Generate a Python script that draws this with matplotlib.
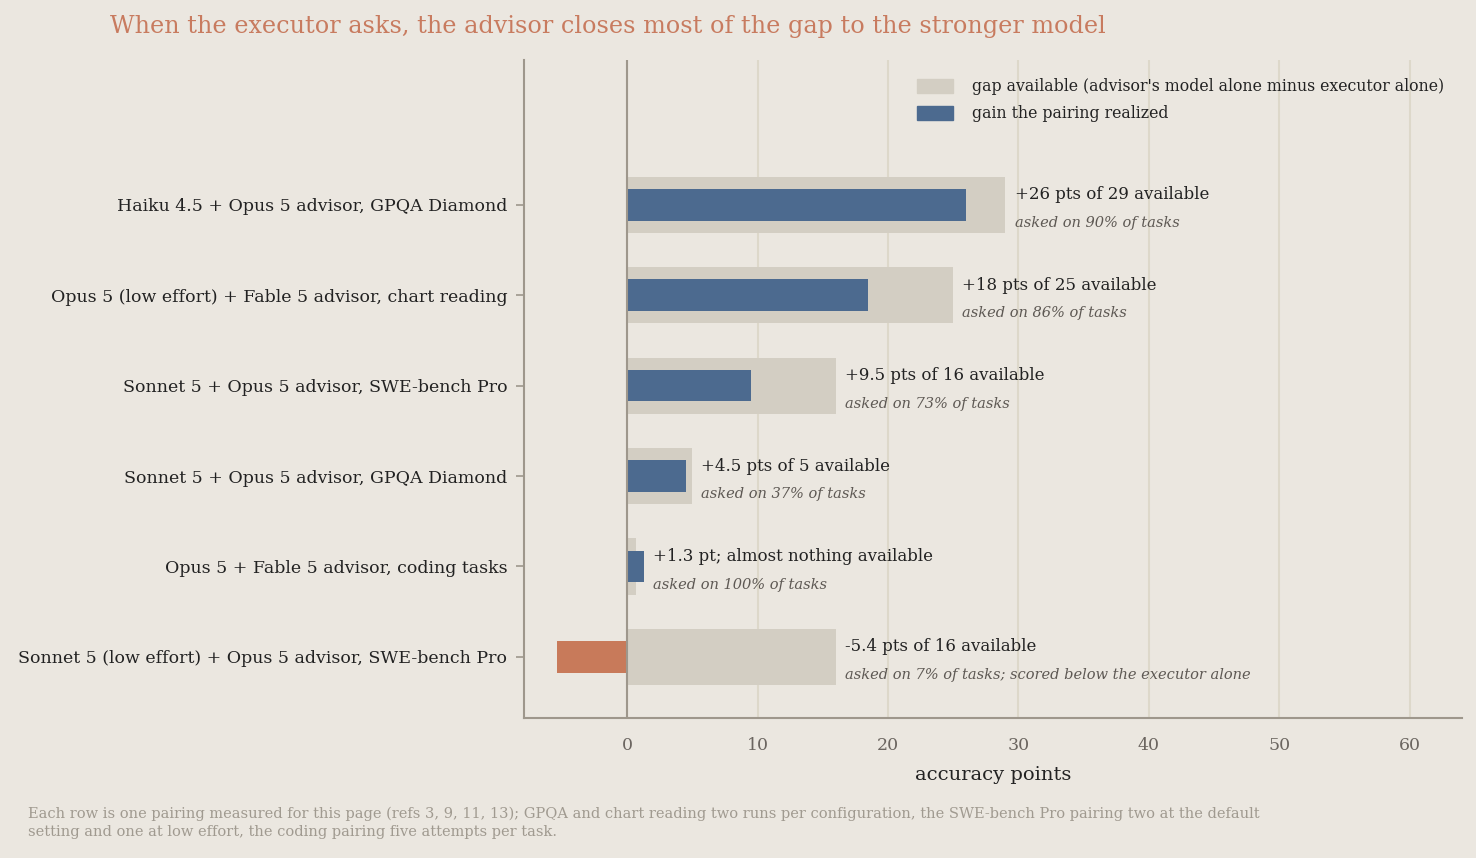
import matplotlib
matplotlib.use("Agg")
import matplotlib.pyplot as plt
from matplotlib.patches import Patch

categories = [
    "Haiku 4.5 + Opus 5 advisor, GPQA Diamond",
    "Opus 5 (low effort) + Fable 5 advisor, chart reading",
    "Sonnet 5 + Opus 5 advisor, SWE-bench Pro",
    "Sonnet 5 + Opus 5 advisor, GPQA Diamond",
    "Opus 5 + Fable 5 advisor, coding tasks",
    "Sonnet 5 (low effort) + Opus 5 advisor, SWE-bench Pro",
]
gap_available = [29, 25, 16, 5, 0.7, 16]
gain_realized = [26, 18.5, 9.5, 4.5, 1.3, -5.4]
main_labels = [
    "+26 pts of 29 available",
    "+18 pts of 25 available",
    "+9.5 pts of 16 available",
    "+4.5 pts of 5 available",
    "+1.3 pt; almost nothing available",
    "-5.4 pts of 16 available",
]
sub_labels = [
    "asked on 90% of tasks",
    "asked on 86% of tasks",
    "asked on 73% of tasks",
    "asked on 37% of tasks",
    "asked on 100% of tasks",
    "asked on 7% of tasks; scored below the executor alone",
]
x_ticks = [0, 10, 20, 30, 40, 50, 60]

BG = "#EBE7E0"
GAP = "#D3CEC3"
BLUE = "#4C6A8F"
ORANGE = "#C87A5A"
SPINE = "#9E978C"
GRID = "#DDD8CA"
DARK = "#222222"
FONT = ["DejaVu Serif"]

plt.rcParams["font.family"] = FONT

fig = plt.figure(figsize=(14.76, 8.58), dpi=100, facecolor=BG)
ax = fig.add_axes([0.355, 0.1632, 0.6355, 0.7668], facecolor=BG)

y = list(range(len(categories)))
ax.barh(y, gap_available, height=0.62, color=GAP, zorder=2)
colors = [BLUE if g >= 0 else ORANGE for g in gain_realized]
ax.barh(y, gain_realized, height=0.35, color=colors, zorder=3)

for i in y:
    xe = max(gap_available[i], gain_realized[i]) + 0.7
    ax.text(xe, i - 0.11, main_labels[i], fontsize=12, color=DARK,
            va="center", ha="left", zorder=4)
    ax.text(xe, i + 0.2, sub_labels[i], fontsize=10.5, color="#5E5954",
            style="italic", va="center", ha="left", zorder=4)

ax.axvline(0, color=SPINE, lw=1.5, zorder=3)
ax.set_xlim(-7.9, 64)
ax.set_ylim(5.675, -1.6)
ax.set_xticks(x_ticks)
ax.set_xticklabels([str(t) for t in x_ticks])
ax.set_yticks(y)
ax.set_yticklabels(categories)
ax.tick_params(axis="y", labelsize=12.5, labelcolor=DARK, color=SPINE, length=6, width=1.2, pad=6)
ax.tick_params(axis="x", labelsize=12.5, labelcolor="#6B6560", length=0, pad=14)
ax.grid(axis="x", color=GRID, lw=1.5, zorder=0)
ax.set_axisbelow(True)
for s in ["top", "right"]:
    ax.spines[s].set_visible(False)
for s in ["left", "bottom"]:
    ax.spines[s].set_color(SPINE)
    ax.spines[s].set_linewidth(1.5)
ax.set_xlabel("accuracy points", fontsize=14, color=DARK, labelpad=8)

handles = [Patch(color=GAP, label="gap available (advisor's model alone minus executor alone)"),
           Patch(color=BLUE, label="gain the pairing realized")]
leg = ax.legend(handles=handles, loc="upper right", frameon=False, fontsize=11.3,
                handlelength=2.3, handleheight=1.0, borderaxespad=0.75, labelspacing=0.65,
                handletextpad=1.2)
for t in leg.get_texts():
    t.set_color(DARK)

fig.text(110 / 1476, 1 - 26 / 858, "When the executor asks, the advisor closes most of the gap to the stronger model",
         fontsize=17.2, color="#C87B5F", va="center", ha="left")
fig.text(28 / 1476, 1 - 823 / 858,
         "Each row is one pairing measured for this page (refs 3, 9, 11, 13); GPQA and chart reading two runs per configuration, the SWE-bench Pro pairing two at the default\nsetting and one at low effort, the coding pairing five attempts per task.",
         fontsize=10.5, color="#A09A90", va="center", ha="left", linespacing=1.35)

fig.savefig("out.png", dpi=100, facecolor=BG)
